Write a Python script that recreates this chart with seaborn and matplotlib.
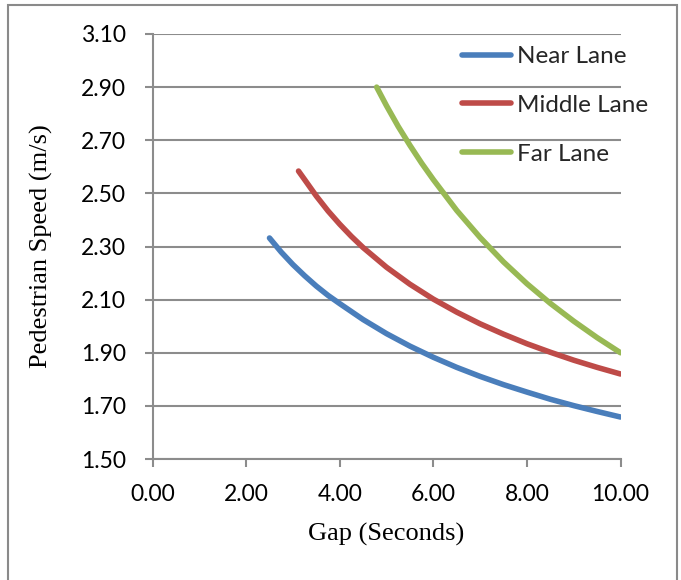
import matplotlib
matplotlib.use("Agg")
import matplotlib.pyplot as plt
from matplotlib.patches import Rectangle
import pandas as pd
import seaborn as sns

# ---- data ----
near_gap = [2.50, 2.75, 3.0, 3.25, 3.5, 3.75, 4.0, 4.5, 5.0, 5.5, 6.0, 6.5, 7.0,
            7.5, 8.0, 8.5, 9.0, 9.5, 10.0]
near_speed = [2.332, 2.279, 2.232, 2.190, 2.151, 2.116, 2.085, 2.025, 1.972, 1.925,
              1.883, 1.845, 1.811, 1.780, 1.752, 1.725, 1.701, 1.679, 1.658]

middle_gap = [3.12, 3.25, 3.5, 3.75, 4.0, 4.25, 4.5, 5.0, 5.5, 6.0, 6.5, 7.0, 7.5,
              8.0, 8.5, 9.0, 9.5, 10.0]
middle_speed = [2.584, 2.552, 2.490, 2.434, 2.384, 2.338, 2.296, 2.222, 2.158, 2.102,
                2.053, 2.009, 1.970, 1.934, 1.902, 1.872, 1.845, 1.820]

far_gap = [4.79, 5.0, 5.25, 5.5, 5.75, 6.0, 6.5, 7.0, 7.5, 8.0, 8.5, 9.0, 9.5, 10.0]
far_speed = [2.900, 2.830, 2.752, 2.681, 2.614, 2.552, 2.436, 2.334, 2.242, 2.160,
             2.086, 2.019, 1.957, 1.900]

lanes = ["Near Lane", "Middle Lane", "Far Lane"]
lane_colors = ["#4A7EBB", "#BE4B48", "#98B954"]

x_ticks = [0, 2, 4, 6, 8, 10]
y_ticks = [1.50, 1.70, 1.90, 2.10, 2.30, 2.50, 2.70, 2.90, 3.10]

x_label = "Gap (Seconds)"
y_label = "Pedestrian Speed (m/s)"

df = pd.concat([
    pd.DataFrame({"gap": near_gap, "speed": near_speed, "lane": lanes[0]}),
    pd.DataFrame({"gap": middle_gap, "speed": middle_speed, "lane": lanes[1]}),
    pd.DataFrame({"gap": far_gap, "speed": far_speed, "lane": lanes[2]}),
], ignore_index=True)

sns.set_theme(style="white")
plt.rcParams["font.family"] = ["Lato", "DejaVu Sans"]

W, H = 681, 580
fig = plt.figure(figsize=(W / 100, H / 100), dpi=100)
x0, x1, y0, y1 = 152.5, 620.5, 34, 459
ax = fig.add_axes([x0 / W, 1 - y1 / H, (x1 - x0) / W, (y1 - y0) / H])

sns.lineplot(data=df, x="gap", y="speed", hue="lane", hue_order=lanes,
             palette=dict(zip(lanes, lane_colors)), linewidth=4.0,
             estimator=None, sort=True, ax=ax)
for ln in ax.lines:
    ln.set_solid_capstyle("round")
    ln.set_solid_joinstyle("round")

grey = "#8C8C8C"
ax.set_xlim(0, 10)
ax.set_ylim(1.50, 3.10)
ax.set_xticks(x_ticks)
ax.set_xticklabels([f"{v:.2f}" for v in x_ticks])
ax.set_yticks(y_ticks)
ax.set_yticklabels([f"{v:.2f}" for v in y_ticks])
ax.yaxis.grid(True, color=grey, linewidth=1.5)
ax.xaxis.grid(False)
for s in ["top", "right"]:
    ax.spines[s].set_visible(False)
for s in ["left", "bottom"]:
    ax.spines[s].set_color(grey)
    ax.spines[s].set_linewidth(1.5)
ax.tick_params(axis="both", bottom=True, left=True, direction="out", length=6,
               width=1.5, color=grey, labelsize=16.5, labelcolor="black")
ax.tick_params(axis="y", pad=13)
ax.tick_params(axis="x", pad=12)

ax.set_xlabel(x_label, fontsize=19, family="Liberation Serif", color="black")
ax.set_ylabel(y_label, fontsize=19, family="Liberation Serif", color="black")
ax.xaxis.set_label_coords(0.5, -0.151)
ax.yaxis.set_label_coords(-0.213, 0.5)

handles, labels = ax.get_legend_handles_labels()
leg = ax.legend(handles, labels, loc="upper left", bbox_to_anchor=(462 / W, 1 - 46 / H),
                bbox_transform=fig.transFigure, frameon=False, fontsize=17.5,
                handlelength=2.0, handletextpad=0.25, labelspacing=1.15,
                borderpad=0, borderaxespad=0)
for hl in leg.get_lines():
    hl.set_linewidth(4.0)
    hl.set_solid_capstyle("round")

fig.patches.append(Rectangle((8 / W, -0.05), (677 - 8) / W, 1.05 - 5 / H,
                             transform=fig.transFigure, fill=False,
                             edgecolor="#8A8A8A", linewidth=1.5))

fig.savefig("out.png", dpi=100)
